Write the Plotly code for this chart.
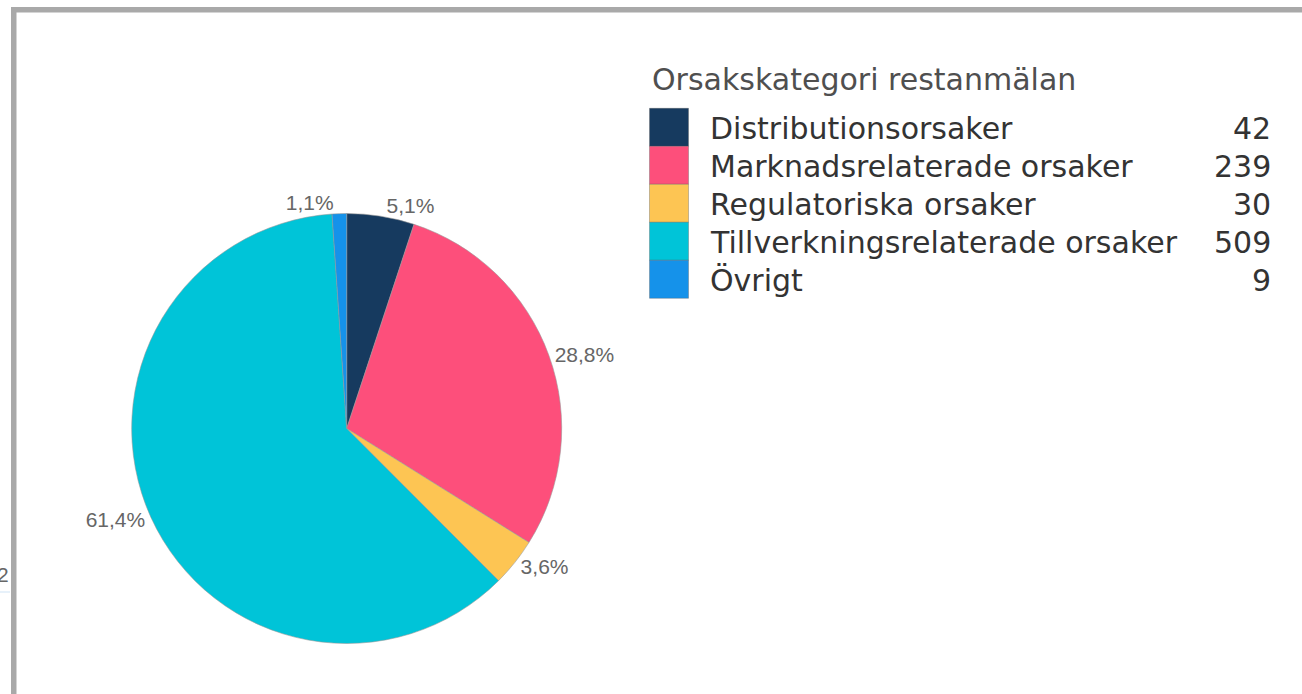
import plotly.graph_objects as go

W, H = 1302, 694

categories = [
    "Distributionsorsaker",
    "Marknadsrelaterade orsaker",
    "Regulatoriska orsaker",
    "Tillverkningsrelaterade orsaker",
    "Övrigt",
]
counts = [42, 239, 30, 509, 9]
colors = ["#163A5F", "#FD4F7B", "#FDC553", "#00C4D8", "#1592EA"]
legend_title = "Orsakskategori restanmälan"

FONT = "Liberation Sans, Arial, sans-serif"
LFONT = "DejaVu Sans, sans-serif"


def px(x):
    return x / W


def py(y):
    return 1 - y / H


# pie geometry (pixels)
cx, cy, half = 346.7, 428.5, 215

fig = go.Figure(
    go.Pie(
        labels=categories,
        values=counts,
        marker=dict(colors=colors, line=dict(color="rgba(150,150,150,0.7)", width=0.8)),
        sort=False,
        direction="clockwise",
        rotation=0,
        textposition="outside",
        texttemplate="%{percent:.1%}",
        textfont=dict(family=FONT, size=21, color="#666666"),
        domain=dict(x=[px(cx - half), px(cx + half)],
                    y=[max(0, py(cy + half)), min(1, py(cy - half))]),
        showlegend=False,
        hoverinfo="label+value+percent",
    )
)

shapes = []
annotations = []

# frame border (top and left)
shapes.append(dict(type="rect", xref="paper", yref="paper", x0=px(11), x1=px(1302), y0=py(12.5), y1=py(7),
                   fillcolor="#A9A9A9", line=dict(width=0), layer="above"))
shapes.append(dict(type="rect", xref="paper", yref="paper", x0=px(11), x1=px(16.5), y0=py(694), y1=py(7),
                   fillcolor="#A9A9A9", line=dict(width=0), layer="above"))
# faint fragment at left edge
shapes.append(dict(type="line", xref="paper", yref="paper", x0=px(0), x1=px(10), y0=py(592), y1=py(592),
                   line=dict(color="#CFE3F5", width=1)))
annotations.append(dict(text="2", xref="paper", yref="paper", x=px(10.5), y=py(574), xanchor="right",
                        yanchor="middle", showarrow=False, font=dict(family=FONT, size=21, color="#666666")))

# custom legend
annotations.append(dict(text=legend_title, xref="paper", yref="paper", x=px(650), y=py(79), xanchor="left",
                        yanchor="middle", showarrow=False, font=dict(family=LFONT, size=30, color="#4F4F4F")))
row0, row_h = 108.3, 38.0
for i, (cat, cnt, col) in enumerate(zip(categories, counts, colors)):
    y0 = row0 + i * row_h
    shapes.append(dict(type="rect", xref="paper", yref="paper", x0=px(649.5), x1=px(688.5),
                       y0=py(y0 + row_h), y1=py(y0), fillcolor=col,
                       line=dict(color="rgba(90,90,90,0.35)", width=1)))
    annotations.append(dict(text=cat, xref="paper", yref="paper", x=px(708), y=py(y0 + row_h / 2 + 1),
                            xanchor="left", yanchor="middle", showarrow=False,
                            font=dict(family=LFONT, size=30, color="#333333")))
    annotations.append(dict(text=str(cnt), xref="paper", yref="paper", x=px(1273), y=py(y0 + row_h / 2 + 1),
                            xanchor="right", yanchor="middle", showarrow=False,
                            font=dict(family=LFONT, size=30, color="#333333")))

fig.update_layout(
    width=W,
    height=H,
    margin=dict(l=0, r=0, t=0, b=0),
    paper_bgcolor="white",
    plot_bgcolor="white",
    separators=", ",
    shapes=shapes,
    annotations=annotations,
    showlegend=False,
)

fig.write_html(
    "out.html",
    config={"displayModeBar": False},
    post_script="document.body.style.margin='0';document.body.style.overflow='hidden';",
)
